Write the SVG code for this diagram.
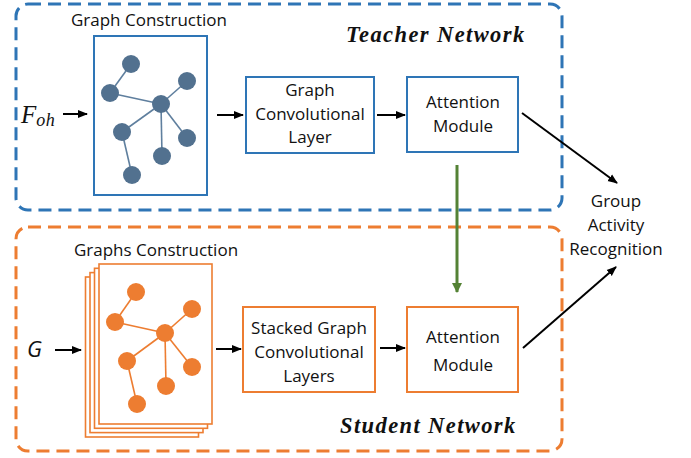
<svg xmlns="http://www.w3.org/2000/svg" width="691" height="458" viewBox="0 0 691 458">
<defs>
<marker id="ah" viewBox="0 0 10 10" refX="9" refY="5" markerWidth="5" markerHeight="5" orient="auto" markerUnits="strokeWidth">
<path d="M0,1 L10,5 L0,9 z" fill="#000"/>
</marker>
<marker id="ahg" viewBox="0 0 10 10" refX="9" refY="5" markerWidth="3.5" markerHeight="3.5" orient="auto" markerUnits="strokeWidth">
<path d="M0,0 L10,5 L0,10 z" fill="#548235"/>
</marker>
<style>
.lbl{font-family:"Open Sans","Liberation Sans",sans-serif;font-size:17px;fill:#111;text-anchor:middle}
.title{font-family:"Liberation Serif",serif;font-weight:bold;font-style:italic;font-size:22.5px;letter-spacing:1.4px;fill:#111}
.bluebox{fill:#fff;stroke:#2E75B6;stroke-width:2}
.orbox{fill:#fff;stroke:#ED7D31;stroke-width:2}
.sheet{fill:#fff;stroke:#ED7D31;stroke-width:1.6}
.tdash{fill:none;stroke:#2E75B6;stroke-width:3;stroke-dasharray:13 7}
.sdash{fill:none;stroke:#ED7D31;stroke-width:3;stroke-dasharray:13 7}
.arr{stroke:#000;stroke-width:2;fill:none;marker-end:url(#ah)}
.be{stroke:#5F7F9E;stroke-width:1.6}
.bn{fill:#52718F}
.oe{stroke:#ED7D31;stroke-width:1.6}
.on{fill:#ED7D31}
</style>
</defs>

<g id="teacher-network">
<rect class="tdash" x="16" y="4" width="546" height="206" rx="12"/>
<text class="title" x="346" y="42">Teacher Network</text>
</g>

<g id="student-network">
<rect class="sdash" x="16" y="227" width="546" height="224" rx="12"/>
<text class="title" x="340" y="433">Student Network</text>
</g>

<g id="foh">
<text x="21" y="123" font-family="Liberation Serif,serif" font-style="italic" font-size="25" fill="#111">F<tspan font-size="18" dy="3" letter-spacing="0.5">oh</tspan></text>
</g>

<g id="graph-construction">
<text class="lbl" x="149" y="26">Graph Construction</text>
<rect class="bluebox" x="94" y="36" width="113" height="159"/>
<g>
<line class="be" x1="131" y1="64" x2="110" y2="93"/>
<line class="be" x1="110" y1="93" x2="161" y2="104"/>
<line class="be" x1="161" y1="104" x2="187" y2="81"/>
<line class="be" x1="161" y1="104" x2="122" y2="132"/>
<line class="be" x1="161" y1="104" x2="187" y2="138"/>
<line class="be" x1="161" y1="104" x2="162" y2="156"/>
<line class="be" x1="122" y1="132" x2="132" y2="175"/>
</g>
<g>
<circle class="bn" cx="131" cy="64" r="9"/>
<circle class="bn" cx="110" cy="93" r="9"/>
<circle class="bn" cx="161" cy="104" r="9"/>
<circle class="bn" cx="187" cy="81" r="9"/>
<circle class="bn" cx="122" cy="132" r="9"/>
<circle class="bn" cx="187" cy="138" r="9"/>
<circle class="bn" cx="162" cy="156" r="9"/>
<circle class="bn" cx="132" cy="175" r="9"/>
</g>
</g>

<g id="gcl">
<rect class="bluebox" x="246" y="77" width="128" height="76"/>
<text class="lbl" x="310" y="96">Graph</text>
<text class="lbl" x="310" y="120">Convolutional</text>
<text class="lbl" x="310" y="143">Layer</text>
</g>

<g id="teacher-attention">
<rect class="bluebox" x="407" y="77" width="111" height="75"/>
<text class="lbl" x="463" y="108">Attention</text>
<text class="lbl" x="463" y="132">Module</text>
</g>

<g id="g-input">
<text x="27" y="357" font-family="Open Sans,Liberation Sans,sans-serif" font-style="italic" font-size="22" fill="#111">G</text>
</g>

<g id="graphs-construction">
<text class="lbl" x="156" y="256">Graphs Construction</text>
<rect class="sheet" x="85.5" y="277" width="113" height="160"/>
<rect class="sheet" x="90" y="272.6" width="113" height="160"/>
<rect class="sheet" x="94.5" y="268.3" width="113" height="160"/>
<rect class="sheet" x="99" y="264" width="113" height="160"/>
<g>
<line class="oe" x1="136" y1="292" x2="115" y2="322"/>
<line class="oe" x1="115" y1="322" x2="165" y2="333"/>
<line class="oe" x1="165" y1="333" x2="192" y2="309"/>
<line class="oe" x1="165" y1="333" x2="127" y2="361"/>
<line class="oe" x1="165" y1="333" x2="192" y2="367"/>
<line class="oe" x1="165" y1="333" x2="166" y2="386"/>
<line class="oe" x1="127" y1="361" x2="137" y2="404"/>
</g>
<g>
<circle class="on" cx="136" cy="292" r="9"/>
<circle class="on" cx="115" cy="322" r="9"/>
<circle class="on" cx="165" cy="333" r="9"/>
<circle class="on" cx="192" cy="309" r="9"/>
<circle class="on" cx="127" cy="361" r="9"/>
<circle class="on" cx="192" cy="367" r="9"/>
<circle class="on" cx="166" cy="386" r="9"/>
<circle class="on" cx="137" cy="404" r="9"/>
</g>
</g>

<g id="sgcl">
<rect class="orbox" x="243" y="307" width="132" height="85"/>
<text class="lbl" x="309" y="334">Stacked Graph</text>
<text class="lbl" x="309" y="358">Convolutional</text>
<text class="lbl" x="309" y="382">Layers</text>
</g>

<g id="student-attention">
<rect class="orbox" x="407" y="307" width="111" height="85"/>
<text class="lbl" x="463" y="343">Attention</text>
<text class="lbl" x="463" y="371">Module</text>
</g>

<g id="group-activity">
<text class="lbl" x="616" y="207">Group</text>
<text class="lbl" x="616" y="231">Activity</text>
<text class="lbl" x="616" y="255">Recognition</text>
</g>

<g id="connectors">
<line class="arr" x1="63" y1="114" x2="87" y2="114"/>
<line class="arr" x1="217" y1="115" x2="243" y2="115"/>
<line class="arr" x1="377" y1="115" x2="405" y2="115"/>
<line class="arr" x1="522" y1="113" x2="617" y2="183"/>
<line class="arr" x1="55" y1="350" x2="81" y2="350"/>
<line class="arr" x1="216" y1="349" x2="241" y2="349"/>
<line class="arr" x1="380" y1="348" x2="405" y2="348"/>
<line class="arr" x1="523" y1="348" x2="616" y2="267"/>
<line x1="457" y1="165" x2="457" y2="292" stroke="#548235" stroke-width="3" marker-end="url(#ahg)"/>
</g>
</svg>
